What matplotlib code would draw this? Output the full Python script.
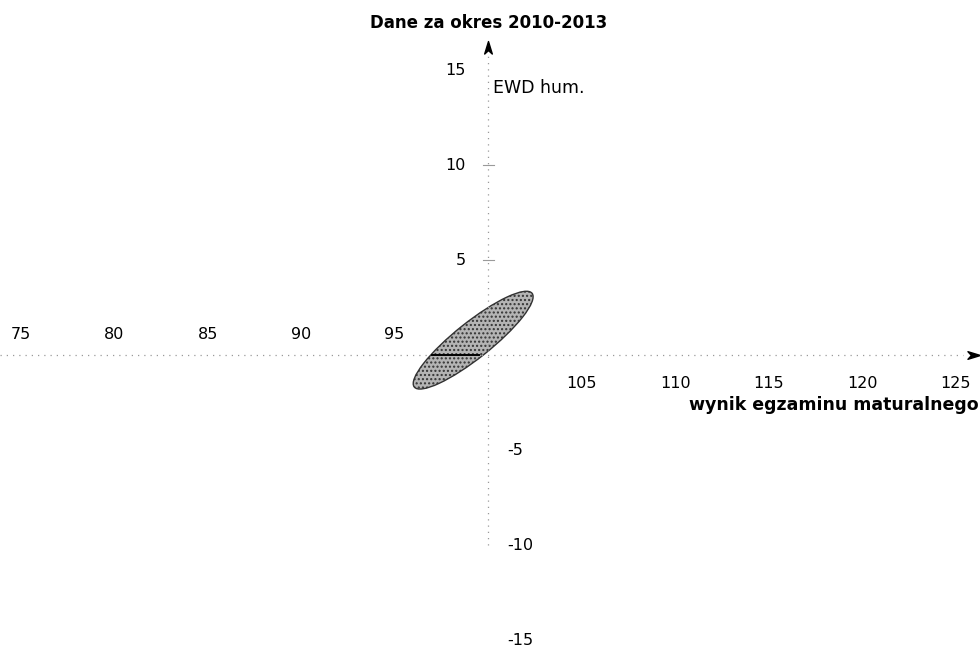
import matplotlib
matplotlib.use("Agg")
import matplotlib.pyplot as plt
from matplotlib.patches import Ellipse
from matplotlib.path import Path

# data
x_ticks = [75, 80, 85, 90, 95, 105, 110, 115, 120, 125]
y_ticks = [15, 10, 5, -5, -10, -15]
origin = (100, 0)
ellipse_center = (99.2, 0.8)
ellipse_width = 8.0     # along major axis (data units, approx.)
ellipse_height = 1.9
ellipse_angle = 38
mean_segment_x = [97.0, 99.5]
mean_segment_y = [0, 0]

title = "Dane za okres 2010-2013"
xlabel = "wynik egzaminu maturalnego"
ylabel = "EWD hum."

fig = plt.figure(figsize=(9.8, 6.48), dpi=100)
ax = fig.add_axes([0, 0, 1, 1])
ax.set_xlim(73.9, 126.3)
ax.set_ylim(-15.4, 18.7)
for s in ax.spines.values():
    s.set_visible(False)
ax.set_xticks([])
ax.set_yticks([])

axis_style = dict(color="#9a9a9a", linewidth=0.9, linestyle=(0, (1, 4)))
ax.plot([73.9, 125.4], [origin[1], origin[1]], **axis_style)
ax.plot([origin[0], origin[0]], [-10.0, 15.8], **axis_style)

# concave arrow heads
up_head = Path([(0, 1), (0.55, -0.8), (0, -0.3), (-0.55, -0.8), (0, 1)],
               [Path.MOVETO, Path.LINETO, Path.LINETO, Path.LINETO, Path.CLOSEPOLY])
right_head = Path([(1, 0), (-0.8, 0.55), (-0.3, 0), (-0.8, -0.55), (1, 0)],
                  [Path.MOVETO, Path.LINETO, Path.LINETO, Path.LINETO, Path.CLOSEPOLY])
ax.plot([origin[0]], [16.2], marker=up_head, markersize=10, color="black", linestyle="none")
ax.plot([125.9], [origin[1]], marker=right_head, markersize=10, color="black", linestyle="none")

# ellipse
e = Ellipse(ellipse_center, ellipse_width, ellipse_height, angle=ellipse_angle,
            facecolor="#b4b4b4", edgecolor="#333333", hatch="....", linewidth=1.0)
ax.add_patch(e)
ax.plot(mean_segment_x, mean_segment_y, color="black", linewidth=1.4)

# small tick marks on the y axis
for yt in y_ticks:
    if 0 < yt <= 10:
        ax.plot([origin[0] - 0.3, origin[0] + 0.3], [yt, yt], color="#9a9a9a", linewidth=0.8)

fs = 11.5
for xt in x_ticks:
    if xt < origin[0]:
        ax.text(xt, 1.1, str(xt), ha="center", va="center", fontsize=fs)
    else:
        ax.text(xt, -1.5, str(xt), ha="center", va="center", fontsize=fs)
for yt in y_ticks:
    if yt > 0:
        ax.text(origin[0] - 1.2, yt, str(yt), ha="right", va="center", fontsize=fs)
    else:
        ax.text(origin[0] + 1.0, yt, str(yt), ha="left", va="center", fontsize=fs)

ax.text(100, 17.5, title, ha="center", va="center", fontsize=12, fontweight="bold")
ax.text(100.25, 14.05, ylabel, ha="left", va="center", fontsize=12.5)
ax.text(126.2, -2.6, xlabel, ha="right", va="center", fontsize=12.5, fontweight="bold")

fig.savefig("out.png", dpi=100)
